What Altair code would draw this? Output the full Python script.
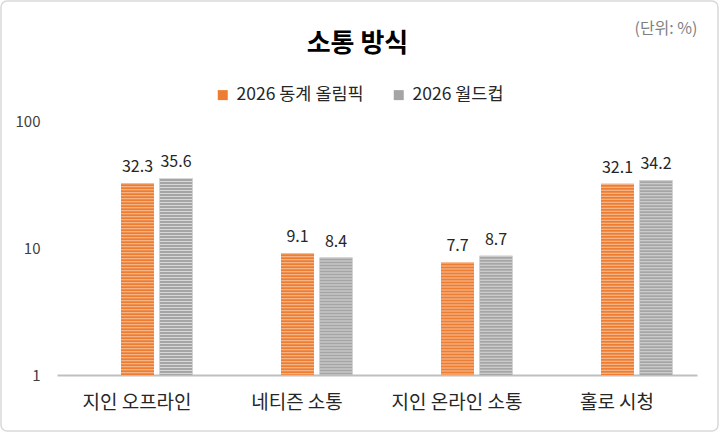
import altair as alt
import pandas as pd

# Survey data: how people watch/communicate about the events (unit: %)
categories = ["지인 오프라인", "네티즌 소통", "지인 온라인 소통", "홀로 시청"]
series_names = ["2026 동계 올림픽", "2026 월드컵"]
olympics = [32.3, 9.1, 7.7, 32.1]
worldcup = [35.6, 8.4, 8.7, 34.2]
y_ticks = [1, 10, 100]

title_text = "소통 방식"
unit_text = "(단위: %)"

FONT = "Noto Sans CJK KR"
colors = ["#ED7D31", "#A5A5A5"]
stripe_colors = ["#F7C3A0", "#D8D8D8"]
bar_offsets = [0.5, 39]

df = pd.DataFrame({
    "category": categories * 2,
    "series": [series_names[0]] * len(categories) + [series_names[1]] * len(categories),
    "value": olympics + worldcup,
})

x_enc = alt.X(
    "category:N",
    sort=categories,
    scale=alt.Scale(paddingInner=0, paddingOuter=0),
    axis=alt.Axis(title=None, labelAngle=0, domain=True, domainColor="#BFBFBF",
                  domainWidth=2, ticks=False,
                  labelFontSize=19, labelPadding=18, labelColor="#262626",
                  labelFont=FONT),
)
y_scale = alt.Scale(type="log", domain=[1, 100])
y_enc = alt.Y(
    "value:Q",
    scale=y_scale,
    axis=alt.Axis(title=None, values=y_ticks, format="d", grid=False,
                  ticks=False, domain=False, labelFontSize=15,
                  labelPadding=17, labelColor="#404040", labelFont=FONT),
)

color_enc = alt.Color(
    "series:N",
    scale=alt.Scale(domain=series_names, range=colors),
    legend=alt.Legend(
        title=None, orient="none", direction="horizontal",
        legendX=157, legendY=-35, padding=0,
        symbolType="square", symbolSize=100, symbolStrokeWidth=0,
        labelFontSize=17.5, labelFont=FONT, labelColor="#262626",
        labelOffset=5, columnPadding=26,
    ),
)

base = alt.Chart(df)
layers = []
for name, stripe, off in zip(series_names, stripe_colors, bar_offsets):
    part = base.transform_filter(alt.datum.series == name)
    bars = part.mark_bar(width=33, xOffset=off).encode(
        x=x_enc, y=y_enc, y2=alt.datum(1), color=color_enc
    )
    stripes = part.mark_rule(
        xOffset=off, strokeWidth=33, strokeDash=[1, 2], color=stripe,
        strokeCap="butt"
    ).encode(x=x_enc, y=alt.Y("value:Q", scale=y_scale), y2=alt.datum(1))
    labels = part.mark_text(
        xOffset=off, baseline="bottom", dy=-8, fontSize=16, font=FONT,
        color="#262626"
    ).encode(x=x_enc, y=alt.Y("value:Q", scale=y_scale),
             text=alt.Text("value:Q", format=".1f"))
    layers += [bars, stripes, labels]

single = alt.Chart(pd.DataFrame({"t": [unit_text], "title": [title_text]}))

title = single.mark_text(
    fontSize=26, fontWeight="bold", font=FONT, color="#000000",
    align="center", baseline="middle"
).encode(text="title:N", x=alt.value(300.5), y=alt.value(-77))
unit = single.mark_text(
    fontSize=16, font=FONT, color="#7F7F7F", align="center", baseline="middle"
).encode(text="t:N", x=alt.value(609), y=alt.value(-92))
frame = single.mark_rect(
    fillOpacity=0, stroke="#D9D9D9", strokeWidth=1.5, cornerRadius=6
).encode(x=alt.value(-56), x2=alt.value(661), y=alt.value(-120), y2=alt.value(310))

chart = alt.layer(frame, *layers, title, unit).properties(
    width=640,
    height=254,
    autosize=alt.AutoSizeParams(type="none"),
    padding={"left": 57, "top": 121, "right": 23, "bottom": 57},
).configure(font=FONT, background="white").configure_view(stroke=None)

chart.save("out.html", embed_options={"renderer": "svg", "actions": False})
